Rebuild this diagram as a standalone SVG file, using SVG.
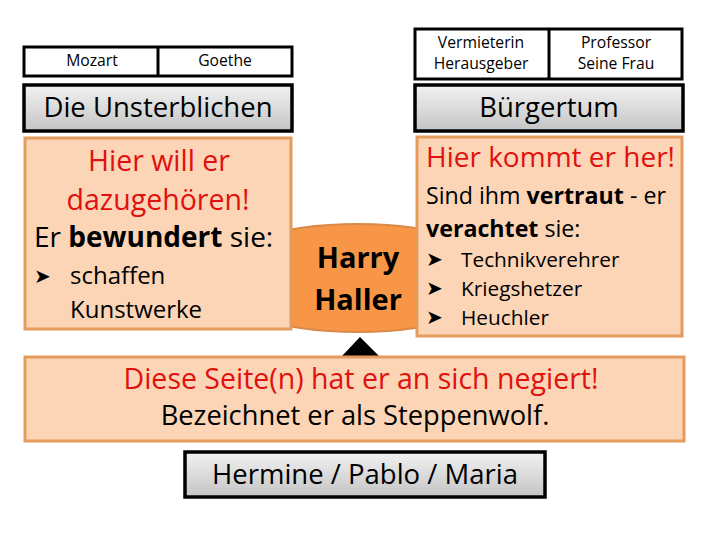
<svg xmlns="http://www.w3.org/2000/svg" width="720" height="540" viewBox="0 0 720 540">
<defs>
<linearGradient id="gray" x1="0" y1="0" x2="0" y2="1">
<stop offset="0" stop-color="#f2f2f2"/>
<stop offset="1" stop-color="#c4c4c4"/>
</linearGradient>
<style>
text{font-family:"Open Sans","Noto Sans","Liberation Sans",sans-serif;fill:#000}
.small{font-size:15.7px;text-anchor:middle}
.title{font-size:27.5px;text-anchor:middle}
.label{fill:#fff;stroke:#000;stroke-width:3}
.grey{fill:url(#gray);stroke:#000;stroke-width:3.5}
.peach{fill:#fbd5b5;stroke:#e59b5c;stroke-width:3}
.red{fill:#e0110f}
.bul{font-family:"DejaVu Sans",sans-serif;font-size:20px}
</style>
</defs>
<rect width="720" height="540" fill="#fff"/>
<g id="harry">
<ellipse cx="358" cy="278" rx="150" ry="54" fill="#f79646" stroke="#d98a48" stroke-width="2"/>
<text x="358" y="268" font-size="29" font-weight="bold" text-anchor="middle">Harry</text>
<text x="358" y="310" font-size="29" font-weight="bold" text-anchor="middle">Haller</text>
</g>
<g id="mozart-goethe">
<rect class="label" x="24" y="47" width="268" height="29"/>
<line x1="158" y1="47" x2="158" y2="76" stroke="#000" stroke-width="3"/>
<text class="small" x="92" y="66">Mozart</text>
<text class="small" x="225" y="66">Goethe</text>
</g>
<g id="unsterblichen">
<rect class="grey" x="24" y="85" width="268" height="46"/>
<text class="title" x="158" y="117">Die Unsterblichen</text>
</g>
<g id="left-box">
<rect class="peach" x="25" y="138" width="266" height="191"/>
<text x="159" y="171" font-size="28.5" text-anchor="middle" class="red">Hier will er</text>
<text x="158" y="210" font-size="28.5" text-anchor="middle" class="red">dazugehören!</text>
<text x="34" y="247" font-size="28">Er <tspan font-weight="bold">bewundert</tspan> sie:</text>
<text class="bul" x="34" y="283">➤</text>
<text x="70" y="284" font-size="24">schaffen</text>
<text x="70" y="318" font-size="24">Kunstwerke</text>
</g>
<g id="buerger-labels">
<rect class="label" x="415" y="29" width="267" height="50"/>
<line x1="549" y1="29" x2="549" y2="79" stroke="#000" stroke-width="3"/>
<text class="small" x="481" y="48">Vermieterin</text>
<text class="small" x="481" y="69">Herausgeber</text>
<text class="small" x="616" y="48">Professor</text>
<text class="small" x="616" y="69">Seine Frau</text>
</g>
<g id="buergertum">
<rect class="grey" x="415" y="85" width="268" height="46"/>
<text class="title" x="549" y="117">Bürgertum</text>
</g>
<g id="right-box">
<rect class="peach" x="417" y="137" width="265" height="199"/>
<text x="426" y="167" font-size="28" class="red">Hier kommt er her!</text>
<text x="426" y="204" font-size="23.2">Sind ihm <tspan font-weight="bold">vertraut</tspan> - er</text>
<text x="426" y="237" font-size="23.2"><tspan font-weight="bold">verachtet</tspan> sie:</text>
<text class="bul" x="426" y="266" font-size="17">➤</text>
<text x="461" y="267" font-size="20.8">Technikverehrer</text>
<text class="bul" x="426" y="295" font-size="17">➤</text>
<text x="461" y="296" font-size="20.8">Kriegshetzer</text>
<text class="bul" x="426" y="324" font-size="17">➤</text>
<text x="461" y="325" font-size="20.8">Heuchler</text>
</g>
<g id="connectors">
<polygon points="360,337 342,356 379,356" fill="#000"/>
</g>
<g id="steppenwolf">
<rect class="peach" x="25" y="357" width="659" height="84"/>
<text x="361" y="389" font-size="28.5" text-anchor="middle" class="red">Diese Seite(n) hat er an sich negiert!</text>
<text x="355" y="425" font-size="27.3" text-anchor="middle">Bezeichnet er als Steppenwolf.</text>
</g>
<g id="hermine">
<rect class="grey" x="185" y="452" width="360" height="45"/>
<text x="365" y="484" font-size="27.5" text-anchor="middle">Hermine / Pablo / Maria</text>
</g>
</svg>
